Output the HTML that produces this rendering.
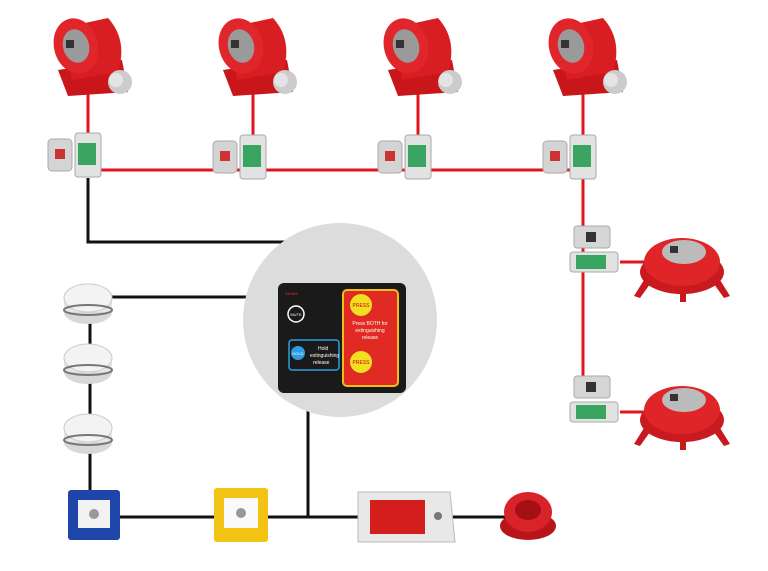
<!DOCTYPE html>
<html><head><meta charset="utf-8"><style>html,body{margin:0;padding:0;background:#fff;width:768px;height:571px;overflow:hidden}</style></head>
<body>
<svg width="768" height="571" viewBox="0 0 768 571" xmlns="http://www.w3.org/2000/svg" font-family="Liberation Sans, sans-serif">
<defs>
<g id="cyl">
  <polygon points="58,70 122,60 128,92 68,96" fill="#c8161b"/>
  <path d="M62,28 L108,18 Q128,40 118,72 L72,80 Z" fill="#d81e22"/>
  <ellipse cx="76" cy="46" rx="22" ry="28" fill="#e0262a" transform="rotate(-15 76 46)"/>
  <ellipse cx="76" cy="46" rx="13" ry="17" fill="#9a9a9a" transform="rotate(-15 76 46)"/>
  <rect x="66" y="40" width="8" height="8" fill="#333"/>
  <circle cx="120" cy="82" r="12" fill="#ccc"/>
  <circle cx="116" cy="80" r="7" fill="#e4e4e4"/>
</g>
<g id="jbox">
  <rect x="0" y="6" width="24" height="32" rx="4" fill="#d4d4d4" stroke="#aaa"/>
  <rect x="7" y="16" width="10" height="10" fill="#c33"/>
  <rect x="27" y="0" width="26" height="44" rx="3" fill="#e2e2e2" stroke="#aaa"/>
  <rect x="30" y="10" width="18" height="22" fill="#3aa560"/>
</g>
<g id="disc">
  <path d="M-38,18 L-48,34 L-42,36 L-32,22 Z M38,18 L48,34 L42,36 L32,22Z M-2,26 L-2,40 L4,40 L4,26Z" fill="#c81a1e"/>
  <ellipse cx="0" cy="10" rx="42" ry="22" fill="#c91b1f"/>
  <ellipse cx="0" cy="0" rx="38" ry="24" fill="#e02528"/>
  <ellipse cx="2" cy="-10" rx="22" ry="12" fill="#bbb"/>
  <rect x="-12" y="-16" width="8" height="7" fill="#333"/>
</g>
<g id="jboxh">
  <rect x="0" y="0" width="36" height="22" rx="3" fill="#d6d6d6" stroke="#aaa"/>
  <rect x="12" y="6" width="10" height="10" fill="#333"/>
  <rect x="-4" y="26" width="48" height="20" rx="3" fill="#e2e2e2" stroke="#aaa"/>
  <rect x="2" y="29" width="30" height="14" fill="#3aa560"/>
</g>
<g id="smoke">
  <ellipse cx="0" cy="14" rx="24" ry="12" fill="#d8d8d8"/>
  <rect x="-24" y="0" width="48" height="14" fill="#e6e6e6"/>
  <ellipse cx="0" cy="0" rx="24" ry="14" fill="#f3f3f3" stroke="#ccc"/>
  <ellipse cx="0" cy="12" rx="24" ry="5" fill="none" stroke="#777" stroke-width="2"/>
</g>
</defs>

<!-- red wiring -->
<g stroke="#e0161b" stroke-width="3" fill="none">
  <line x1="88" y1="90" x2="88" y2="140"/><line x1="253" y1="90" x2="253" y2="140"/>
  <line x1="418" y1="90" x2="418" y2="140"/><line x1="583" y1="90" x2="583" y2="140"/>
  <line x1="98" y1="170" x2="583" y2="170"/>
  <line x1="583" y1="170" x2="583" y2="230"/>
  <line x1="583" y1="230" x2="583" y2="380"/>
  <line x1="620" y1="262" x2="648" y2="262"/>
  <line x1="620" y1="412" x2="648" y2="412"/>
</g>
<!-- black wiring -->
<g stroke="#111" stroke-width="3" fill="none">
  <polyline points="88,178 88,242 290,242"/>
  <line x1="110" y1="297" x2="250" y2="297"/>
  <line x1="90" y1="320" x2="90" y2="515"/>
  <line x1="90" y1="517" x2="505" y2="517"/>
  <line x1="308" y1="410" x2="308" y2="517"/>
</g>

<use href="#cyl" x="0" y="0"/><use href="#cyl" x="165" y="0"/><use href="#cyl" x="330" y="0"/><use href="#cyl" x="495" y="0"/>
<use href="#jbox" x="48" y="133"/><use href="#jbox" x="213" y="135"/><use href="#jbox" x="378" y="135"/><use href="#jbox" x="543" y="135"/>

<use href="#jboxh" x="574" y="226"/><use href="#jboxh" x="574" y="376"/>
<use href="#disc" x="682" y="262"/><use href="#disc" x="682" y="410"/>

<!-- central circle & panel -->
<circle cx="340" cy="320" r="97" fill="#dcdcdc"/>
<rect x="278" y="283" width="128" height="110" rx="6" fill="#1a1a1a"/>
<rect x="343" y="290" width="55" height="96" rx="4" fill="#e12a24" stroke="#e9c01a" stroke-width="2"/>
<circle cx="361" cy="305" r="11" fill="#f1e021"/>
<circle cx="361" cy="362" r="11" fill="#f1e021"/>
<text x="361" y="307" font-size="5" text-anchor="middle" fill="#c00">PRESS</text>
<text x="361" y="364" font-size="5" text-anchor="middle" fill="#c00">PRESS</text>
<text x="370" y="325" font-size="5" text-anchor="middle" fill="#ffe">Press BOTH for</text>
<text x="370" y="332" font-size="5" text-anchor="middle" fill="#ffe">extinguishing</text>
<text x="370" y="339" font-size="5" text-anchor="middle" fill="#ffe">release</text>
<circle cx="296" cy="314" r="8" fill="none" stroke="#fff" stroke-width="1.5"/>
<text x="296" y="316" font-size="4" text-anchor="middle" fill="#fff">MUTE</text>
<rect x="289" y="340" width="50" height="30" rx="3" fill="none" stroke="#2aa0e0" stroke-width="1.5"/>
<circle cx="298" cy="353" r="7" fill="#2a9ee0"/>
<text x="298" y="355" font-size="4" text-anchor="middle" fill="#fff">HOLD</text>
<text x="318" y="350" font-size="5" fill="#fff">Hold</text>
<text x="310" y="357" font-size="5" fill="#fff">extinguishing</text>
<text x="313" y="364" font-size="5" fill="#fff">release</text>
<text x="285" y="295" font-size="4" fill="#d33">SIGMA</text>

<use href="#smoke" x="88" y="298"/><use href="#smoke" x="88" y="358"/><use href="#smoke" x="88" y="428"/>

<!-- bottom devices -->
<rect x="68" y="490" width="52" height="50" rx="3" fill="#1f45a8"/>
<rect x="78" y="500" width="32" height="28" fill="#f2f2f2"/>
<circle cx="94" cy="514" r="5" fill="#999"/>
<rect x="214" y="488" width="54" height="54" rx="3" fill="#f2c313"/>
<rect x="224" y="498" width="34" height="30" fill="#fafafa"/>
<circle cx="241" cy="513" r="5" fill="#999"/>
<polygon points="358,492 450,492 455,542 358,542" fill="#e8e8e8" stroke="#bbb"/>
<rect x="370" y="500" width="55" height="34" fill="#d41e1e"/>
<circle cx="438" cy="516" r="4" fill="#777"/>
<ellipse cx="528" cy="526" rx="28" ry="14" fill="#b91418"/>
<ellipse cx="528" cy="512" rx="24" ry="20" fill="#d9232a"/>
<ellipse cx="528" cy="510" rx="13" ry="10" fill="#a51014"/>
</svg>
</body></html>
